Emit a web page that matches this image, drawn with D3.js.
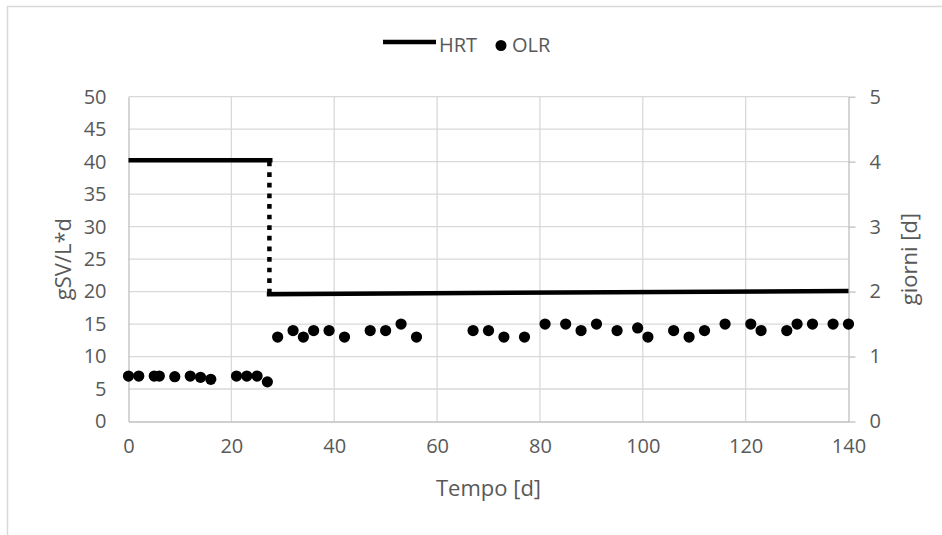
<!DOCTYPE html>
<html>
<head>
<meta charset="utf-8">
<script src="https://cdn.jsdelivr.net/npm/d3@7"></script>
<style>
  html, body { margin: 0; padding: 0; background: #fff; }
  svg { display: block; }
  text { font-family: "Open Sans", "Liberation Sans", sans-serif; fill: #595959; }
</style>
</head>
<body>
<svg id="chart" width="942" height="535"></svg>
<script>
// ---- data ----
const olrDays = [0,2,5,6,9,12,14,16,21,23,25,27,29,32,34,36,39,42,47,50,53,56,67,70,73,77,81,85,88,91,95,99,101,106,109,112,116,121,123,128,130,133,137,140];
const olrValues = [7,7,7,7,6.9,7,6.8,6.5,7,7,7,6.1,13,14,13,14,14,13,14,14,15,13,14,14,13,13,15,15,14,15,14,14.4,13,14,13,14,15,15,14,14,15,15,15,15];

// HRT (giorni, right axis)
const hrtPhase1Days = [0, 28];
const hrtPhase1Values = [4.02, 4.02];
const hrtStepDays = [27.4, 27.4];
const hrtStepValues = [4.0, 1.96];
const hrtPhase2Days = [26.9, 140];
const hrtPhase2Values = [1.96, 2.01];

const xTicks = [0,20,40,60,80,100,120,140];
const yLeftTicks = [0,5,10,15,20,25,30,35,40,45,50];
const yRightTicks = [0,1,2,3,4,5];

const xTitle = "Tempo [d]";
const yLeftTitle = "gSV/L*d";
const yRightTitle = "giorni [d]";
const legendLabels = ["HRT", "OLR"];

// ---- layout ----
const svg = d3.select("#chart");
const pLeft = 128.5, pRight = 848.5, pTop = 96.7, pBottom = 421.5;

const x = d3.scaleLinear().domain([0, 140]).range([pLeft, pRight]);
const yL = d3.scaleLinear().domain([0, 50]).range([pBottom, pTop]);
const yR = d3.scaleLinear().domain([0, 5]).range([pBottom, pTop]);

// outer frame
svg.append("rect").attr("x", 7.5).attr("y", 6.5).attr("width", 1000).attr("height", 1000)
  .attr("fill", "none").attr("stroke", "#d9d9d9").attr("stroke-width", 1.5);

const gridColor = "#d9d9d9";
const axisColor = "#bfbfbf";

// horizontal gridlines
svg.append("g").selectAll("line").data(yLeftTicks.filter(d => d > 0)).join("line")
  .attr("x1", pLeft).attr("x2", pRight)
  .attr("y1", d => yL(d)).attr("y2", d => yL(d))
  .attr("stroke", gridColor).attr("stroke-width", 1.3);

// vertical gridlines
svg.append("g").selectAll("line").data(xTicks.filter(d => d > 0 && d < 140)).join("line")
  .attr("x1", d => x(d)).attr("x2", d => x(d))
  .attr("y1", pTop).attr("y2", pBottom)
  .attr("stroke", gridColor).attr("stroke-width", 1.3);

const fontCss = '"Open Sans", "Liberation Sans", sans-serif';

// left axis (no ticks)
const gL = svg.append("g").attr("transform", `translate(${pLeft},0)`)
  .call(d3.axisLeft(yL).tickValues(yLeftTicks).tickFormat(d3.format("d")).tickSize(0).tickPadding(22));
gL.select(".domain").attr("stroke", axisColor).attr("stroke-width", 1.3);
gL.selectAll("text").style("font-size", "20px").style("font-family", fontCss).attr("fill", "#595959");

// right axis with outward ticks
const gR = svg.append("g").attr("transform", `translate(${pRight},0)`)
  .call(d3.axisRight(yR).tickValues(yRightTicks).tickFormat(d3.format("d")).tickSizeInner(7).tickSizeOuter(0).tickPadding(14));
gR.select(".domain").attr("stroke", axisColor).attr("stroke-width", 1.3);
gR.selectAll(".tick line").attr("stroke", axisColor).attr("stroke-width", 1.3);
gR.selectAll("text").style("font-size", "20px").style("font-family", fontCss).attr("fill", "#595959");

// bottom axis (no ticks)
const gB = svg.append("g").attr("transform", `translate(0,${pBottom})`)
  .call(d3.axisBottom(x).tickValues(xTicks).tickFormat(d3.format("d")).tickSize(0).tickPadding(17));
gB.select(".domain").attr("stroke", axisColor).attr("stroke-width", 1.3);
gB.selectAll("text").style("font-size", "20px").style("font-family", fontCss).attr("fill", "#595959");

// axis titles
svg.append("text").attr("x", (pLeft + pRight) / 2).attr("y", 496)
  .attr("text-anchor", "middle").style("font-size", "22px").text(xTitle);
svg.append("text").attr("transform", `translate(71,${(pTop + pBottom) / 2}) rotate(-90)`)
  .attr("text-anchor", "middle").style("font-size", "22px").text(yLeftTitle);
svg.append("text").attr("transform", `translate(917,${(pTop + pBottom) / 2}) rotate(-90)`)
  .attr("text-anchor", "middle").style("font-size", "22px").text(yRightTitle);

// HRT lines
const line = d3.line().x(d => x(d[0])).y(d => yR(d[1]));
svg.append("path").datum(d3.zip(hrtPhase1Days, hrtPhase1Values)).attr("d", line)
  .attr("fill", "none").attr("stroke", "#000").attr("stroke-width", 4.5);
svg.append("path").datum(d3.zip(hrtStepDays, hrtStepValues)).attr("d", line)
  .attr("fill", "none").attr("stroke", "#000").attr("stroke-width", 4.5)
  .attr("stroke-dasharray", "4.7,5.9");
svg.append("path").datum(d3.zip(hrtPhase2Days, hrtPhase2Values)).attr("d", line)
  .attr("fill", "none").attr("stroke", "#000").attr("stroke-width", 4.5);

// OLR points
svg.append("g").selectAll("circle").data(d3.zip(olrDays, olrValues)).join("circle")
  .attr("cx", d => x(d[0])).attr("cy", d => yL(d[1])).attr("r", 5.6).attr("fill", "#000");

// legend
const lg = svg.append("g");
lg.append("line").attr("x1", 383).attr("x2", 436).attr("y1", 42).attr("y2", 42)
  .attr("stroke", "#000").attr("stroke-width", 4.5);
lg.append("text").attr("x", 439).attr("y", 52).style("font-size", "20px").text(legendLabels[0]);
lg.append("circle").attr("cx", 501).attr("cy", 45.5).attr("r", 5.5).attr("fill", "#000");
lg.append("text").attr("x", 512).attr("y", 52).style("font-size", "20px").text(legendLabels[1]);
</script>
</body>
</html>
